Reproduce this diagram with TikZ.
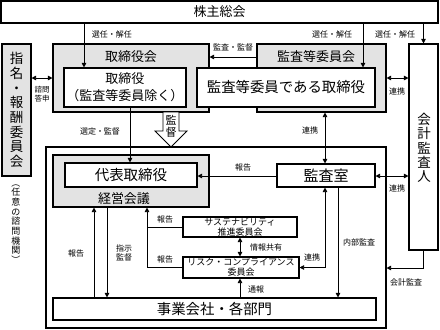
\documentclass[tikz,border=0pt]{standalone}
\usepackage{fontspec}
\setmainfont{Noto Sans CJK JP}
\usetikzlibrary{arrows.meta}
\definecolor{bg}{gray}{0.89}
\newcommand\jfs[1]{\fontsize{#1}{#1}\selectfont}
\begin{document}
\begin{tikzpicture}[x=1pt,y=-1pt,
  box/.style={draw, line width=1.1pt, inner sep=0pt, align=center},
  gbox/.style={box, fill=bg},
  lab/.style={font=\fontsize{8}{9.5}\selectfont, inner sep=0pt, align=center},
  arr/.style={line width=0.8pt, -{Triangle[length=4.5pt,width=4.5pt]}},
  darr/.style={line width=0.8pt, {Triangle[length=4.5pt,width=4.5pt]}-{Triangle[length=4.5pt,width=4.5pt]}},
  ln/.style={line width=0.8pt}]
\useasboundingbox (0,0) rectangle (440,330);
% helper coordinates
\coordinate (c84) at (84,0);
\coordinate (c363) at (363,0);
\coordinate (c94) at (94,0);
\coordinate (c107) at (107,0);
\coordinate (c130) at (130,0);
\coordinate (c147) at (147,0);
\coordinate (c240) at (240,0);
\coordinate (c325) at (325,0);
\coordinate (c338) at (338,0);
\coordinate (y57) at (0,57);
\coordinate (y78) at (0,78);
\coordinate (y176) at (0,176);
\coordinate (y268) at (0,268);
% boxes
\node[box, minimum width=437pt, minimum height=22pt, font=\jfs{13}] (kabu) at (219.5,12) {株主総会};
\node[gbox, minimum width=29pt, minimum height=132pt, font=\fontsize{13.5}{14.7}\selectfont] (shimei) at (16.5,110) {指\\名\\・\\報\\酬\\委\\員\\会};
\node[inner sep=0pt, align=center, font=\fontsize{9}{9.7}\selectfont] (nin) at (16,224) {︵\\任\\意\\の\\諮\\問\\機\\関\\︶};
\node[box, minimum width=340pt, minimum height=181pt] (outer) at (216,237.5) {};
\node[gbox, minimum width=156pt, minimum height=68pt] (torikai) at (131,78) {};
\node[inner sep=0pt, font=\jfs{13}] (torikaiT) at (131,57) {取締役会};
\node[gbox, minimum width=129pt, minimum height=68pt] (kansakai) at (321.5,78) {};
\node[inner sep=0pt, font=\jfs{13}] (kansakaiT) at (316,57) {監査等委員会};
\node[box, fill=white, minimum width=122pt, minimum height=39pt, font=\fontsize{13}{17}\selectfont] (tori) at (125,87.5) {取締役\\（監査等委員除く）};
\node[box, fill=white, minimum width=178pt, minimum height=39pt, font=\jfs{14.4}] (kansatori) at (286,87.5) {監査等委員である取締役};
\node[box, fill=white, minimum width=29pt, minimum height=206pt] (kaikei) at (423.5,147) {};
\node[inner sep=0pt, align=center, font=\fontsize{13.5}{14.4}\selectfont] (kaikeiT) at (424,148) {会\\計\\監\\査\\人};
\node[gbox, minimum width=156pt, minimum height=52pt] (keiei) at (131,181) {};
\node[inner sep=0pt, font=\jfs{13}] (keieiT) at (124,199) {経営会議};
\node[box, fill=white, minimum width=132pt, minimum height=24pt, font=\jfs{14.5}] (daihyo) at (131,175) {代表取締役};
\node[box, fill=white, minimum width=98pt, minimum height=23pt, font=\jfs{15}] (shitsu) at (326,175.5) {監査室};
\node[box, fill=white, minimum width=114pt, minimum height=20pt, font=\fontsize{9}{10}\selectfont] (sus) at (240,227) {サステナビリティ\\推進委員会};
\node[box, fill=white, minimum width=116pt, minimum height=21pt, font=\fontsize{9}{10}\selectfont] (risk) at (241,267.5) {リスク・コンプライアンス\\委員会};
\node[box, fill=white, minimum width=323pt, minimum height=22pt, font=\jfs{14.4}] (jigyo) at (214.5,309) {事業会社・各部門};
% block arrow
\draw[line width=0.9pt, fill=white] (163,112) -- (179,112) -- (179,131) -- (187,131) -- (171,147) -- (155,131) -- (163,131) -- cycle;
\node[inner sep=0pt, align=center, font=\fontsize{11}{12}\selectfont] (kantoku) at (171,126) {監\\督};
% connectors
\draw[arr] (kabu.south -| c84) -- (tori.north -| c84);
\node[lab] (l1) at (112,34) {選任・解任};
\draw[arr] (kabu.south -| c363) -- (kansatori.north -| c363);
\node[lab] (l2) at (332,34) {選任・解任};
\draw[arr] (kabu.south -| kaikei) -- (kaikei.north);
\node[lab] (l3) at (395,34) {選任・解任};
\draw[arr] (kansakai.west |- y57) -- (torikai.east |- y57);
\node[lab] (l4) at (233,47) {監査・監督};
\draw[darr] (shimei.east |- y78) -- (torikai.west |- y78);
\node[lab, font=\fontsize{7.5}{8.5}\selectfont] (l5) at (42,94) {諮問\\答申};
\draw[darr] (kansakai.east |- y78) -- (kaikei.west |- y78);
\node[lab] (l6) at (397,91) {連携};
\draw[arr] (tori.south -| c130) -- (daihyo.north -| c130);
\node[lab] (l7) at (100,131) {選定・監督};
\draw[darr] (kansakai.south -| c325) -- (shitsu.north -| c325);
\node[lab] (l8) at (310,130) {連携};
\draw[arr] (shitsu.west |- y176) -- (daihyo.east |- y176);
\node[lab] (l9) at (243,167) {報告};
\draw[darr] (shitsu.east |- y176) -- (kaikei.west |- y176);
\node[lab] (l10) at (397,188) {連携};
\draw[arr] (shitsu.south -| c338) -- (jigyo.north -| c338);
\node[lab] (l11) at (359,242) {内部監査};
\draw[darr] (shitsu.south -| c325) -- (c325 |- risk.east) -- (risk.east);
\node[lab] (l12) at (312,257) {連携};
\draw[arr] (kaikei.south) -- (kaikei.south |- y268) -- (outer.east |- y268);
\node[lab] (l13) at (406,282) {会計監査};
\draw[ln] (sus.west) -- (c147 |- sus.west);
\draw[arr] (risk.west) -| (keiei.south -| c147);
\node[lab] (l14) at (165,219) {報告};
\node[lab] (l15) at (165,259) {報告};
\draw[darr] (sus.south -| c240) -- (risk.north -| c240);
\node[lab] (l16) at (266,247) {情報共有};
\draw[arr] (jigyo.north -| c240) -- (risk.south -| c240);
\node[lab] (l17) at (256,289) {通報};
\draw[arr] (jigyo.north -| c94) -- (keiei.south -| c94);
\node[lab] (l18) at (76,253) {報告};
\draw[arr] (keiei.south -| c107) -- (jigyo.north -| c107);
\node[lab] (l19) at (124,253) {指示\\監督};
\end{tikzpicture}
\end{document}
